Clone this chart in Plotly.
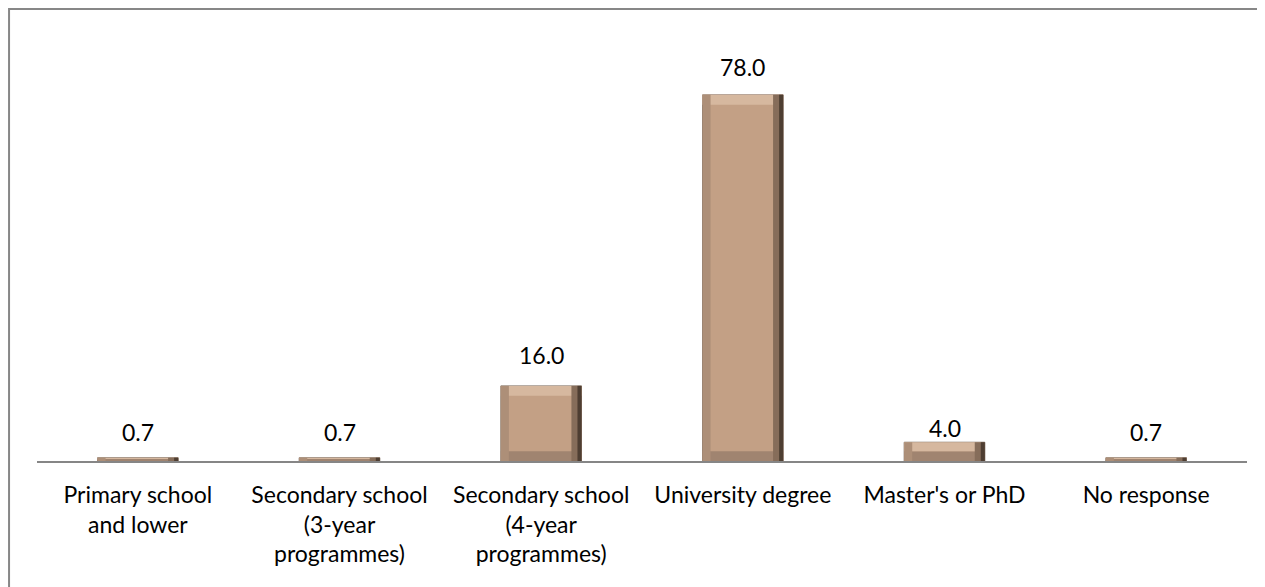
import plotly.graph_objects as go

categories = [
    "Primary school<br>and lower",
    "Secondary school<br>(3-year<br>programmes)",
    "Secondary school<br>(4-year<br>programmes)",
    "University degree",
    "Master's or PhD",
    "No response",
]
values = [0.7, 0.7, 16.0, 78.0, 4.0, 0.7]
labels = ["0.7", "0.7", "16.0", "78.0", "4.0", "0.7"]

FONT = "Lato, 'Open Sans', sans-serif"
BAR = "#C3A085"
W = 0.4          # bar width in category units
E = 0.05         # bevel width in category units
bev = [min(2.1, v / 2) for v in values]   # bevel height in data units
# label nudges (pixels), as placed in the original
label_nudge = {4: -14, 2: 3}

fig = go.Figure()
# main body
fig.add_trace(go.Bar(x=categories, y=values, width=W, offset=-W / 2,
                     marker=dict(color=BAR, line=dict(color="#8a7a6e", width=1)),
                     hoverinfo="skip"))
# top light bevel
fig.add_trace(go.Bar(x=categories, y=bev, base=[v - b for v, b in zip(values, bev)],
                     width=W, offset=-W / 2,
                     marker=dict(color="#D6B89F", line=dict(width=0)), hoverinfo="skip"))
# bottom darker bevel
fig.add_trace(go.Bar(x=categories, y=bev, base=[0] * len(values),
                     width=W, offset=-W / 2,
                     marker=dict(color="#A08470", line=dict(width=0)), hoverinfo="skip"))
# left bevel
fig.add_trace(go.Bar(x=categories, y=values, width=E * 0.8, offset=-W / 2,
                     marker=dict(color="#AD8F78", line=dict(width=0)), hoverinfo="skip"))
# right bevel (two tones)
fig.add_trace(go.Bar(x=categories, y=values, width=E, offset=W / 2 - E,
                     marker=dict(color="#866D5A", line=dict(width=0)), hoverinfo="skip"))
fig.add_trace(go.Bar(x=categories, y=values, width=E * 0.4, offset=W / 2 - E * 0.4,
                     marker=dict(color="#4E3E32", line=dict(width=0)), hoverinfo="skip"))

for i, (c, v, t) in enumerate(zip(categories, values, labels)):
    fig.add_annotation(x=c, y=v, text=t, showarrow=False, yanchor="bottom",
                       yshift=12 + label_nudge.get(i, 0) - (2 if v < 1 else 0),
                       font=dict(family=FONT, size=23, color="#000000"))

fig.add_shape(type="rect", xref="paper", yref="paper",
              x0=-0.0231, x1=1.1, y0=-0.5, y1=1.133,
              line=dict(color="#878787", width=2), fillcolor="rgba(0,0,0,0)")

fig.update_layout(
    width=1265, height=587,
    margin=dict(l=29, r=26, t=54, b=134),
    paper_bgcolor="white", plot_bgcolor="white",
    showlegend=False, barmode="overlay",
    font=dict(family=FONT, size=23, color="#000000"),
)
fig.update_xaxes(showline=True, linecolor="#868686", linewidth=2,
                 ticks="", ticklabelstandoff=12, showgrid=False,
                 tickfont=dict(family=FONT, size=23, color="#000000"))
fig.update_yaxes(range=[0, 85], visible=False, showgrid=False, zeroline=False)

fig.write_html("out.html")
